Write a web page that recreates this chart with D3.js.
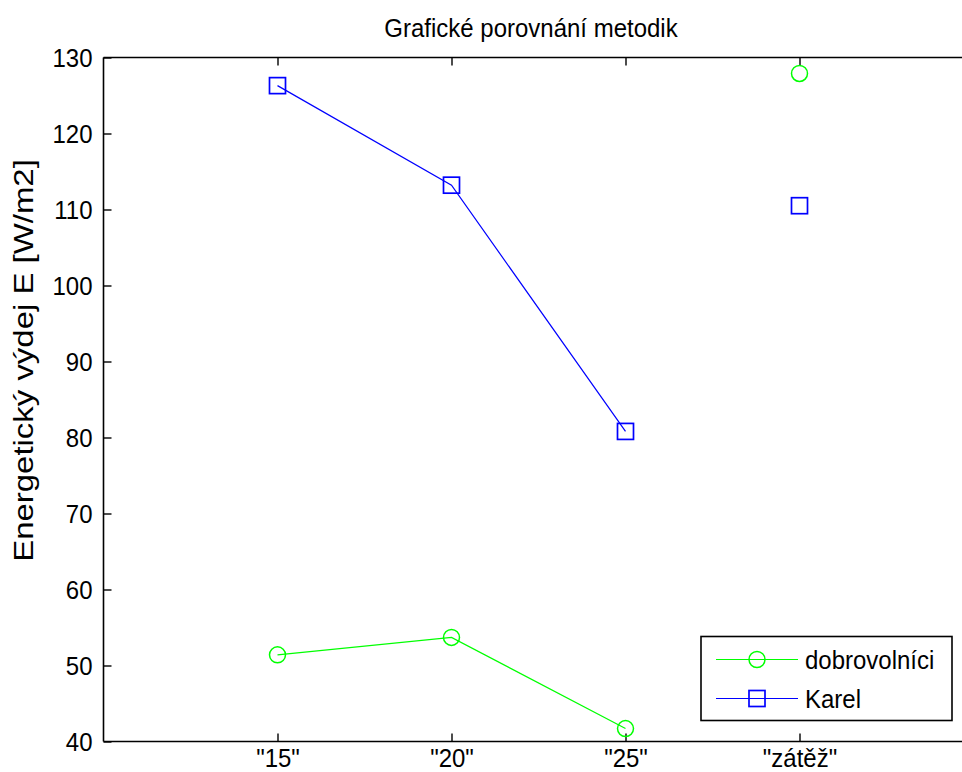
<!DOCTYPE html>
<html>
<head>
<meta charset="utf-8">
<script src="https://cdn.jsdelivr.net/npm/d3@7"></script>
<style>
  html, body { margin: 0; padding: 0; background: #fff; }
  svg { display: block; }
  text { font-family: "Liberation Sans", Arial, sans-serif; fill: #000; }
</style>
</head>
<body>
<svg id="chart" width="962" height="772"></svg>
<script>
// Categories on the x axis (drawn with quotes, as in the original labels)
const categories = ['"15"', '"20"', '"25"', '"zátěž"'];
// Series values, energy expenditure E [W/m2]
const dobrovolnici = [51.4, 53.7, 41.7, 127.9];
const karel = [126.3, 113.2, 80.8, 110.5];
// The last category is plotted as a lone marker, not joined by the line
const joined = [true, true, true, false];
const yTicks = [40, 50, 60, 70, 80, 90, 100, 110, 120, 130];

const seriesList = [
  { name: "dobrovolníci", values: dobrovolnici, color: "#00ff00", marker: "circle" },
  { name: "Karel", values: karel, color: "#0000ff", marker: "square" }
];

const svg = d3.select("#chart");
const W = 962, H = 772;
const plotLeft = 103.5, plotTop = 57.5, plotBottom = 741.5;
const step = 174;

// Category positions are 1..4 on a 0..5 axis; the right end lies past the frame
const x = d3.scaleLinear().domain([0, 5]).range([plotLeft, plotLeft + 5 * step]);
const y = d3.scaleLinear().domain([40, 130]).range([plotBottom, plotTop]);
const xIdx = categories.map((c, i) => i + 1);

const fontSize = 24;
const stretch = 1.1;   // glyphs are slightly taller than wide

const g = svg.append("g");

// Axes frame: left, top and bottom edges
g.append("line").attr("x1", plotLeft).attr("x2", plotLeft).attr("y1", plotTop).attr("y2", plotBottom)
  .attr("stroke", "#000").attr("stroke-width", 1.6);
g.append("line").attr("x1", plotLeft).attr("x2", W).attr("y1", plotTop).attr("y2", plotTop)
  .attr("stroke", "#000").attr("stroke-width", 1.6);
g.append("line").attr("x1", plotLeft).attr("x2", W).attr("y1", plotBottom).attr("y2", plotBottom)
  .attr("stroke", "#000").attr("stroke-width", 1.6);

// Y axis: inward ticks and labels
const yAxis = d3.axisLeft(y).tickValues(yTicks).tickSize(-8).tickPadding(11)
  .tickFormat(d3.format("d"));
const ya = g.append("g").attr("transform", `translate(${plotLeft},0)`).call(yAxis);
ya.select(".domain").remove();
ya.selectAll(".tick line").attr("stroke", "#000").attr("stroke-width", 1.4);
ya.selectAll(".tick text")
  .attr("font-size", fontSize)
  .attr("font-family", "Liberation Sans, Arial, sans-serif")
  .attr("fill", "#000")
  .attr("x", null)
  .attr("dy", null)
  .attr("dominant-baseline", "central")
  .attr("transform", `translate(-11,0) scale(1,${stretch})`);

// X axis: bottom ticks with labels, plus mirrored ticks on the top edge
const xAxis = d3.axisBottom(x).tickValues(xIdx).tickSize(-8).tickPadding(0)
  .tickFormat(i => categories[i - 1]);
const xa = g.append("g").attr("transform", `translate(0,${plotBottom})`).call(xAxis);
xa.select(".domain").remove();
xa.selectAll(".tick line").attr("stroke", "#000").attr("stroke-width", 1.4);
xa.selectAll(".tick text")
  .attr("font-size", fontSize)
  .attr("font-family", "Liberation Sans, Arial, sans-serif")
  .attr("fill", "#000")
  .attr("dy", null)
  .attr("y", 0)
  .attr("transform", `translate(0,25.5) scale(1,${stretch})`);

const xTop = d3.axisTop(x).tickValues(xIdx).tickSize(-8).tickFormat("");
const xt = g.append("g").attr("transform", `translate(0,${plotTop})`).call(xTop);
xt.select(".domain").remove();
xt.selectAll(".tick line").attr("stroke", "#000").attr("stroke-width", 1.4);

// Title
svg.append("text")
  .attr("transform", `translate(531,36.5) scale(1,${stretch})`)
  .attr("text-anchor", "middle")
  .attr("font-size", fontSize)
  .text("Grafické porovnání metodik");

// Y axis label
svg.append("text")
  .attr("transform", `translate(32.5,360.5) rotate(-90) scale(1.22,1)`)
  .attr("text-anchor", "middle")
  .attr("font-size", 27)
  .text("Energetický výdej E [W/m2]");

// Marker drawing helper
function drawMarker(sel, kind, color) {
  if (kind === "circle") {
    sel.append("circle").attr("r", 8)
      .attr("fill", "none").attr("stroke", color).attr("stroke-width", 1.5);
  } else {
    sel.append("rect").attr("x", -8).attr("y", -8).attr("width", 16).attr("height", 16)
      .attr("fill", "none").attr("stroke", color).attr("stroke-width", 1.7);
  }
}

const line = d3.line()
  .defined((d, i) => joined[i])
  .x((d, i) => x(xIdx[i]))
  .y(d => y(d));

seriesList.forEach(s => {
  g.append("path").datum(s.values)
    .attr("d", line)
    .attr("fill", "none").attr("stroke", s.color).attr("stroke-width", 1.2);
  s.values.forEach((v, i) => {
    const m = g.append("g").attr("transform", `translate(${x(xIdx[i])},${y(v)})`);
    drawMarker(m, s.marker, s.color);
  });
});

// Legend
const lg = svg.append("g");
lg.append("rect").attr("x", 701).attr("y", 636.5).attr("width", 251).attr("height", 84)
  .attr("fill", "#fff").attr("stroke", "#000").attr("stroke-width", 1.6);
const rowY = [659.5, 698.5];
seriesList.forEach((s, i) => {
  const ry = rowY[i];
  lg.append("line").attr("x1", 716).attr("x2", 798).attr("y1", ry).attr("y2", ry)
    .attr("stroke", s.color).attr("stroke-width", 1.2);
  const m = lg.append("g").attr("transform", `translate(757,${ry})`);
  drawMarker(m, s.marker, s.color);
  lg.append("text")
    .attr("transform", `translate(805,${ry + 9}) scale(1,${stretch})`)
    .attr("font-size", fontSize)
    .text(s.name);
});
</script>
</body>
</html>
